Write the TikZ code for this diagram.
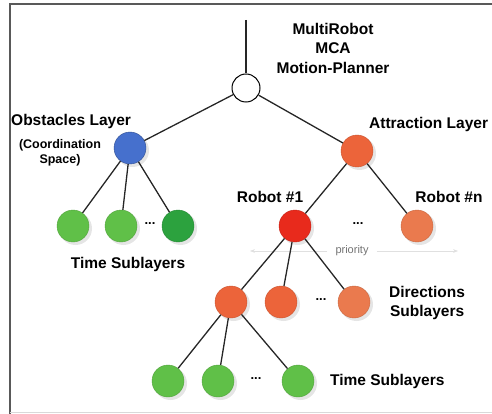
\documentclass[tikz,border=0pt]{standalone}
\usepackage{fontspec}
\setmainfont{Liberation Sans}
\usetikzlibrary{arrows.meta}
\definecolor{cblue}{RGB}{70,112,205}
\definecolor{corange}{RGB}{236,100,58}
\definecolor{cred}{RGB}{232,42,28}
\definecolor{corangeL}{RGB}{234,122,78}
\definecolor{cgreen}{RGB}{96,192,72}
\definecolor{cgreenD}{RGB}{44,162,62}
\begin{document}
\begin{tikzpicture}[x=1pt,y=-1pt,
  ball/.style={circle,minimum size=32pt,inner sep=0pt,
    append after command={\pgfextra{\fill[black!10] ([shift={(2.5pt,-2.5pt)}]\tikzlastnode.center) circle (16.5pt);}}},
  lbl/.style={font=\bfseries\fontsize{15.5}{19.5}\selectfont,align=center,inner sep=0pt},
  slbl/.style={font=\bfseries\fontsize{12.5}{15}\selectfont,align=center,inner sep=0pt},
  dots/.style={font=\bfseries\fontsize{13}{13}\selectfont,inner sep=0pt},
  edge/.style={line width=1.3pt,draw=black!85}]
\useasboundingbox (0,0) rectangle (492,414);
\draw[line width=2pt,black!65] (10,414) -- (10,4) -- (492,4);
\draw[line width=0.6pt,black!15] (10,412) -- (492,412);
% root
\coordinate (top) at (246,20);
\node[circle,minimum size=28pt,inner sep=0pt,draw=black,line width=1pt,fill=white] (root) at (246,88) {};
\node[lbl] (title) at (333,48) {MultiRobot\\MCA\\Motion-Planner};
% obstacles
\node[lbl,anchor=west] (obsl) at (11,121) {Obstacles Layer};
\node[slbl] (obss) at (60,153) {(Coordination\\Space)};
\node[lbl] (tsl1) at (128,264) {Time Sublayers};
% attraction
\node[lbl,anchor=west] (attl) at (369,124) {Attraction Layer};
\node[lbl] (r1l) at (270,197) {Robot \#1};
\node[lbl] (rnl) at (449,197) {Robot \#n};
\node[font=\fontsize{11}{12}\selectfont,text=black!55,inner sep=0pt] (prio) at (352,251) {priority};
\coordinate (pl) at (250,251);
\coordinate (pr) at (458,251);
\draw[black!12,line width=0.6pt,-{Stealth[length=5pt]}] (prio.west) ++(-8,0) -- (pl);
\draw[black!12,line width=0.6pt,-{Stealth[length=5pt]}] (prio.east) ++(8,0) -- (pr);
\node[lbl,anchor=west] (dsl) at (389,303) {Directions\\Sublayers};
\node[lbl,anchor=west] (tsl2) at (330,381) {Time Sublayers};
% balls
\node[ball,fill=cblue,draw=cblue!70!black] (obs) at (130,148) {};
\node[ball,fill=cgreen,draw=cgreen!85!black] (g1) at (73,226) {};
\node[ball,fill=cgreen,draw=cgreen!85!black] (g2) at (121,226) {};
\node[dots] (gd) at (150,224) {...};
\node[ball,fill=cgreenD,draw=cgreenD!85!black] (g3) at (178,226) {};
\node[ball,fill=corange,draw=corange!85!black] (att) at (357,151) {};
\node[ball,fill=cred,draw=cred!85!black] (r1) at (295,226) {};
\node[ball,fill=corangeL,draw=corangeL!85!black] (rn) at (417,226) {};
\node[dots] (rd) at (358,224) {...};
\node[ball,fill=corange,draw=corange!85!black] (d1) at (231,302) {};
\node[ball,fill=corange,draw=corange!85!black] (d2) at (281,302) {};
\node[dots] (dd) at (321,300) {...};
\node[ball,fill=corangeL,draw=corangeL!85!black] (d3) at (354,302) {};
\node[ball,fill=cgreen,draw=cgreen!85!black] (t1) at (168,381) {};
\node[ball,fill=cgreen,draw=cgreen!85!black] (t2) at (218,381) {};
\node[dots] (td) at (256,379) {...};
\node[ball,fill=cgreen,draw=cgreen!85!black] (t3) at (298,381) {};
% edges
\draw[edge] (top) -- (root);
\draw[edge] (root) -- (obs);
\draw[edge] (root) -- (att);
\draw[edge] (obs) -- (g1);
\draw[edge] (obs) -- (g2);
\draw[edge] (obs) -- (g3);
\draw[edge] (att) -- (r1);
\draw[edge] (att) -- (rn);
\draw[edge] (r1) -- (d1);
\draw[edge] (r1) -- (d2);
\draw[edge] (r1) -- (d3);
\draw[edge] (d1) -- (t1);
\draw[edge] (d1) -- (t2);
\draw[edge] (d1) -- (t3);
\end{tikzpicture}
\end{document}
